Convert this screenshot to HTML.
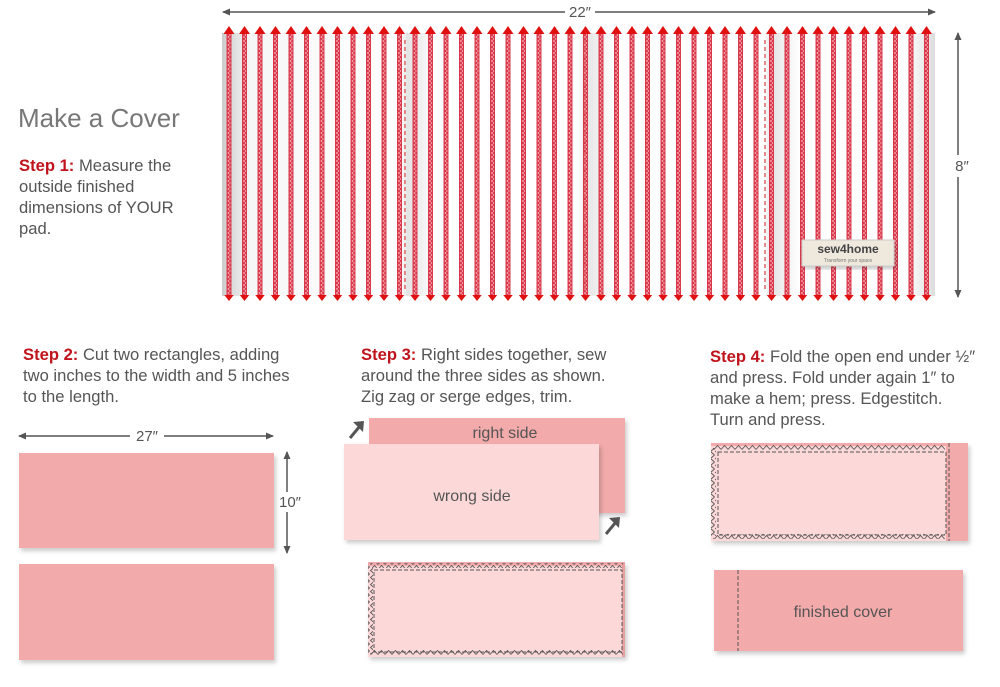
<!DOCTYPE html>
<html><head><meta charset="utf-8"><style>
body{margin:0;background:#fff;width:1000px;height:687px;overflow:hidden;font-family:"Liberation Sans",sans-serif}
svg{position:absolute;left:0;top:0}
.t{position:absolute;color:#555;font-size:16.6px;line-height:21px;white-space:nowrap}
.t b{color:#c0141c}
</style></head><body>
<svg width="1000" height="687" viewBox="0 0 1000 687">
<defs>
<pattern id="st" x="222" y="0" width="15.5" height="4" patternUnits="userSpaceOnUse">
<rect x="4.5" y="0" width="5" height="4" fill="#d83a4c"/>
<rect x="5.8" y="0" width="1.4" height="2" fill="#f4a0aa"/>
<rect x="7.4" y="2" width="1" height="2" fill="#f4a0aa"/>
</pattern>
<pattern id="tri" x="222" y="26" width="15.5" height="8" patternUnits="userSpaceOnUse">
<path d="M1.5,8 L7,0 L12.5,8Z" fill="#e01010"/>
</pattern>
<pattern id="trib" x="222" y="294" width="15.5" height="8" patternUnits="userSpaceOnUse">
<path d="M1.5,0 L7,7 L12.5,0Z" fill="#e01010"/>
</pattern>
<linearGradient id="sh" x1="0" x2="1">
<stop offset="0" stop-color="#ccc"/><stop offset=".04" stop-color="#f6f6f6"/><stop offset=".25" stop-color="#fff"/><stop offset=".26" stop-color="#e4e4e4"/><stop offset=".3" stop-color="#fff"/><stop offset=".5" stop-color="#fff"/><stop offset=".51" stop-color="#e4e4e4"/><stop offset=".55" stop-color="#fff"/><stop offset=".76" stop-color="#fff"/><stop offset=".77" stop-color="#e4e4e4"/><stop offset=".81" stop-color="#fff"/><stop offset=".96" stop-color="#fff"/><stop offset="1" stop-color="#ddd"/>
</linearGradient>
<pattern id="zh" width="7" height="5" patternUnits="userSpaceOnUse"><path d="M0,4.5 L3.5,0.5 L7,4.5" fill="none" stroke="#555" stroke-width=".9"/></pattern>
<pattern id="zv" width="5" height="7" patternUnits="userSpaceOnUse"><path d="M4.5,0 L0.5,3.5 L4.5,7" fill="none" stroke="#555" stroke-width=".9"/></pattern>
<marker id="ah" markerWidth="8" markerHeight="8" refX="7" refY="4" orient="auto-start-reverse" markerUnits="userSpaceOnUse"><path d="M0,0.5 L8,4 L0,7.5Z" fill="#555"/></marker>
<filter id="ds" x="-5%" y="-5%" width="112%" height="120%"><feDropShadow dx="2" dy="3" stdDeviation="2" flood-color="#000" flood-opacity=".2"/></filter>
</defs>
<rect x="222" y="33" width="713" height="263" fill="url(#sh)"/>
<rect x="222" y="33" width="713" height="263" fill="url(#st)"/>
<rect x="222" y="26" width="713" height="8" fill="url(#tri)"/>
<rect x="222" y="295" width="713" height="7" fill="url(#trib)"/>
<g stroke="#d66" stroke-width="1.5" stroke-dasharray="4,3"><line x1="405" y1="40" x2="405" y2="292"/><line x1="585" y1="40" x2="585" y2="292"/><line x1="765" y1="40" x2="765" y2="292"/></g>
<rect x="802" y="240" width="92" height="26" fill="#eee8dd" stroke="#ccc" filter="url(#ds)"/>
<text x="848" y="253" font-size="12" font-weight="bold" fill="#444" text-anchor="middle">sew4home</text>
<text x="848" y="262" font-size="5" fill="#777" text-anchor="middle">Transform your space</text>
<g stroke="#555" stroke-width="1.5" fill="none">
<line x1="223" y1="12" x2="935" y2="12" marker-end="url(#ah)" marker-start="url(#ah)"/>
<line x1="958" y1="33" x2="958" y2="297" marker-end="url(#ah)" marker-start="url(#ah)"/>
<line x1="19" y1="436" x2="273" y2="436" marker-end="url(#ah)" marker-start="url(#ah)"/>
<line x1="287" y1="452" x2="287" y2="553" marker-end="url(#ah)" marker-start="url(#ah)"/>
</g>
<g font-size="15" fill="#555" text-anchor="middle">
<rect x="565" y="3" width="30" height="18" fill="#fff"/><text x="580" y="17">22″</text>
<rect x="950" y="155" width="20" height="22" fill="#fff"/><text x="962" y="171">8″</text>
<rect x="130" y="427" width="34" height="18" fill="#fff"/><text x="147" y="441">27″</text>
<rect x="276" y="492" width="24" height="20" fill="#fff"/><text x="290" y="507">10″</text>
</g>
<rect x="19" y="453" width="255" height="95" fill="#f2aaaa" filter="url(#ds)"/>
<rect x="19" y="564" width="255" height="96" fill="#f2aaaa" filter="url(#ds)"/>
<rect x="369" y="418" width="256" height="95" fill="#f2aaaa" filter="url(#ds)"/>
<text x="505" y="438" font-size="16" fill="#555" text-anchor="middle">right side</text>
<rect x="344" y="444" width="255" height="96" fill="#fdd8d8" filter="url(#ds)"/>
<text x="472" y="501" font-size="16" fill="#555" text-anchor="middle">wrong side</text>
<g stroke="#555" stroke-width="3" fill="none"><path d="M350,438 L360,426"/><path d="M606,534 L616,522"/></g>
<path d="M353,422 L364,421 L363,432Z" fill="#555"/><path d="M609,518 L620,517 L619,528Z" fill="#555"/>
<rect x="368" y="562" width="257" height="95" fill="#fdd8d8" filter="url(#ds)"/>
<rect x="368" y="562" width="257" height="4" fill="#f2aaaa"/>
<rect x="622" y="562" width="3" height="95" fill="#e9a0a0"/>
<rect x="370" y="563" width="253" height="5" fill="url(#zh)"/>
<rect x="370" y="650" width="253" height="5" fill="url(#zh)"/>
<rect x="368" y="566" width="5" height="88" fill="url(#zv)"/>
<rect x="374" y="570" width="248" height="82" fill="none" stroke="#555" stroke-dasharray="4,2"/>
<rect x="711" y="443" width="257" height="98" fill="#f2aaaa" filter="url(#ds)"/>
<rect x="711" y="443" width="235" height="98" fill="#fdd8d8"/>
<rect x="711" y="443" width="235" height="3" fill="#f2aaaa"/>
<rect x="713" y="445" width="232" height="5" fill="url(#zh)"/>
<rect x="713" y="534" width="232" height="5" fill="url(#zh)"/>
<rect x="711" y="448" width="5" height="88" fill="url(#zv)"/>
<rect x="718" y="452" width="228" height="83" fill="none" stroke="#555" stroke-dasharray="4,2"/>
<line x1="949" y1="443" x2="949" y2="541" stroke="#555" stroke-dasharray="4,2"/>
<rect x="714" y="570" width="249" height="81" fill="#f2aaaa" filter="url(#ds)"/>
<line x1="738" y1="570" x2="738" y2="651" stroke="#555" stroke-dasharray="4,2"/>
<text x="843" y="617" font-size="16" fill="#555" text-anchor="middle">finished cover</text>
</svg>
<div class="t" style="left:18px;top:101px;font-size:26px;line-height:34px;color:#777">Make a Cover</div>
<div class="t" style="left:19px;top:155px"><b>Step 1:</b> Measure the<br>outside finished<br>dimensions of YOUR<br>pad.</div>
<div class="t" style="left:23px;top:344px"><b>Step 2:</b> Cut two rectangles, adding<br>two inches to the width and 5 inches<br>to the length.</div>
<div class="t" style="left:361px;top:344px"><b>Step 3:</b> Right sides together, sew<br>around the three sides as shown.<br>Zig zag or serge edges, trim.</div>
<div class="t" style="left:710px;top:346px"><b>Step 4:</b> Fold the open end under ½″<br>and press. Fold under again 1″ to<br>make a hem; press. Edgestitch.<br>Turn and press.</div>
</body></html>
